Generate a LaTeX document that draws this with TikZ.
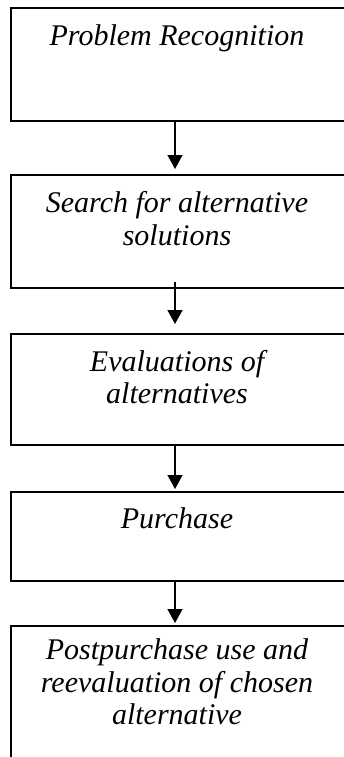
\documentclass[tikz,border=0pt]{standalone}
\usepackage{fontspec}
\setmainfont{Liberation Serif}
\usetikzlibrary{arrows.meta}
\begin{document}
\begin{tikzpicture}[x=1pt,y=-1pt,
  box/.style={draw, line width=1.6pt, minimum width=340pt, anchor=north west, inner sep=0pt},
  txt/.style={anchor=base, inner sep=0pt, font=\fontsize{30}{34}\selectfont\itshape},
  conn/.style={line width=1.3pt, -{Triangle[width=15pt,length=14pt]}}]
\useasboundingbox (0,0) rectangle (344,757);
\clip (0,0) rectangle (344,757);
\coordinate (ax) at (175,0);
\node[box, minimum height=113pt] (b1) at (10,7) {};
\node[box, minimum height=113pt] (b2) at (10,174) {};
\node[box, minimum height=111pt] (b3) at (10,333) {};
\node[box, minimum height=89pt] (b4) at (10,491) {};
\node[box, minimum height=150pt] (b5) at (10,625) {};
\node[txt] (t1) at (177,46) {Problem Recognition};
\node[txt] (t2a) at (177,212) {Search for alternative};
\node[txt] (t2b) at (177,245) {solutions};
\node[txt] (t3a) at (177,371) {Evaluations of};
\node[txt] (t3b) at (177,403) {alternatives};
\node[txt] (t4) at (177,528) {Purchase};
\node[txt] (t5a) at (177,659) {Postpurchase use and};
\node[txt] (t5b) at (177,692) {reevaluation of chosen};
\node[txt] (t5c) at (177,724) {alternative};
\draw[conn] (b1.south west -| ax) -- ([yshift=5pt]b2.north west -| ax);
\draw[conn] ([yshift=7pt]b2.south west -| ax) -- ([yshift=9pt]b3.north west -| ax);
\draw[conn] (b3.south west -| ax) -- ([yshift=2pt]b4.north west -| ax);
\draw[conn] (b4.south west -| ax) -- ([yshift=2pt]b5.north west -| ax);
\end{tikzpicture}
\end{document}
